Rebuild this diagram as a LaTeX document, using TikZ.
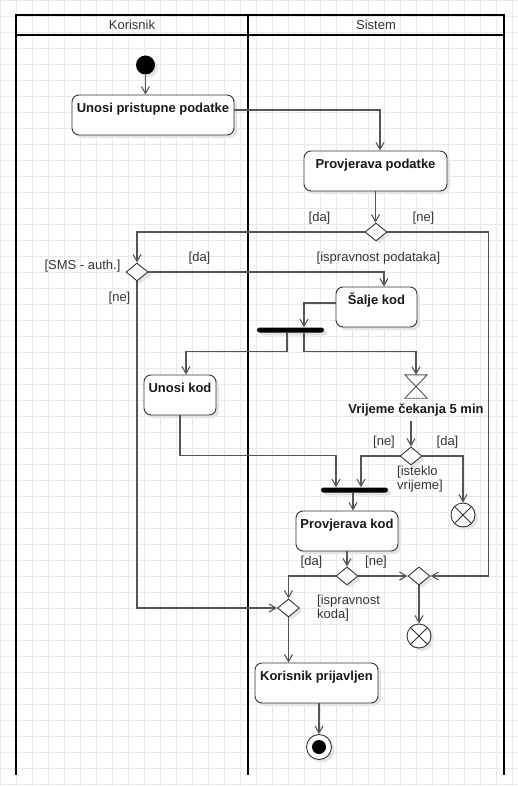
\documentclass[tikz,border=0pt]{standalone}
\usepackage{fontspec}
\setmainfont{Liberation Sans}
\usetikzlibrary{arrows.meta, shapes.geometric, positioning, calc, shadows}
\definecolor{gridgray}  {RGB}{234, 234, 234}
\definecolor{flowgray}  {RGB}{85,  85,  85}
\definecolor{edgegray}  {RGB}{51,  51,  51}
\definecolor{textgray}  {RGB}{51,  51,  51}
\definecolor{umbragray} {RGB}{228, 228, 228}
\tikzset{
	umbra/.style={drop shadow={shadow xshift=3pt, shadow yshift=-3pt, fill=umbragray, opacity=1}},
	gridline/.style={step=16pt, draw=gridgray, line width=0.8pt},
	pool/.style={draw=black, line width=2pt, line join=miter},
	lane/.style={text=textgray, inner sep=0, font=\fontsize{13pt}{15pt}\selectfont},
	flow/.style={draw=flowgray, line width=1.1pt, -{Straight Barb[length=7pt,width=8pt]}},
	act/.style={rectangle, draw=edgegray, line width=0.9pt, rounded corners=7pt, fill=white, umbra,
		minimum height=40pt, inner xsep=0, inner ysep=0, text height=17.5pt, text depth=22.5pt,
		font=\fontsize{13pt}{15pt}\selectfont\bfseries, text=black!90},
	actnote/.style={inner sep=0, font=\fontsize{13pt}{15pt}\selectfont\bfseries, text=black!90},
	dec/.style={diamond, draw=edgegray, line width=0.9pt, fill=white, umbra,
		minimum width=22pt, minimum height=18pt, inner sep=0},
	bar/.style={rectangle, fill=black, rounded corners=2.5pt, umbra,
		minimum width=67pt, minimum height=5pt, inner sep=0},
	startdot/.style={circle, fill=black, umbra, minimum size=19pt, inner sep=0},
	hglass/.style={rectangle, minimum width=22pt, minimum height=23pt, inner sep=0},
	flowend/.style={circle, draw=edgegray, line width=0.9pt, fill=white, umbra, minimum size=24pt, inner sep=0,
		path picture={\draw[edgegray, line width=0.9pt]
			(path picture bounding box.center) +(45:12pt) -- +(225:12pt)
			(path picture bounding box.center) +(135:12pt) -- +(-45:12pt);}},
	actend/.style={circle, draw=edgegray, line width=0.9pt, fill=white, umbra, minimum size=25pt, inner sep=0,
		path picture={\fill[black] (path picture bounding box.center) circle (7pt);}},
	lbl/.style={text=textgray, inner sep=0, font=\fontsize{13pt}{14pt}\selectfont}
}
\begin{document}
\begin{tikzpicture}[x=1pt, y=-1pt]
	\useasboundingbox (0,0) rectangle (518,786);
	\draw[gridline] (0,0) grid (518,786);

	\draw[pool] (16,775) -- (16,15) -- (504,15) -- (504,775);
	\draw[pool] (16,35) -- (504,35);
	\draw[pool] (248,15) -- (248,775);
	\node[lane] (hk) at (132,25) {Korisnik};
	\node[lane] (hs) at (376,25) {Sistem};

	\node[startdot] (st) at (145.5,65) {};
	\node[act, minimum width=162pt] (upp) at (153,115) {Unosi pristupne podatke};
	\node[act, minimum width=143pt] (pp) at (375.5,171) {Provjerava podatke};
	\node[dec] (d1) at (376,232) {};
	\node[dec] (d2) at (137,272) {};
	\node[act, minimum width=81pt] (sk) at (376.5,307) {Šalje kod};
	\node[bar] (f1) at (290.5,330) {};
	\node[act, minimum width=72pt] (uk) at (180,395) {Unosi kod};
	\node[hglass] (hg) at (416,386.5) {};
	\draw[flowgray, line width=0.9pt] (hg.north west) -- (hg.north east) -- (hg.south west) -- (hg.south east) -- cycle;
	\node[actnote] (vc) at (416,410) {Vrijeme čekanja 5 min};
	\coordinate (vcb) at (411,421);
	\node[dec] (d3) at (411,456) {};
	\node[bar] (f2) at (354.5,490) {};
	\node[flowend] (x1) at (463,515) {};
	\node[act, minimum width=102pt] (pk) at (347,531) {Provjerava kod};
	\node[dec] (d4) at (347,576) {};
	\node[dec] (m1) at (419,576) {};
	\node[flowend] (x2) at (419,636) {};
	\node[dec] (d5) at (288.5,608) {};
	\node[act, minimum width=123pt] (kp) at (316.5,683) {Korisnik prijavljen};
	\node[actend] (en) at (319,747) {};

	\draw[flow] (st.south) -- (st.south |- upp.north);
	\draw[flow] ([yshift=5pt]upp.east) -| ([xshift=4.5pt]pp.north);
	\draw[flow] (pp.south) -- (pp.south |- d1.north);
	\draw[flow] (d1.west) -| (d2.north);
	\draw[flow] (d1.east) -- ++(101,0) |- (m1.east);
	\draw[flow] (d2.east) -| ([xshift=7.5pt]sk.north);
	\draw[flow] (d2.south) |- (d5.west);
	\draw[flow] ([yshift=4pt]sk.west) -| ([xshift=13.5pt]f1.north);
	\draw[flow] ([xshift=-3.5pt]f1.south) -- ++(0,18.5) -| ([xshift=6pt]uk.north);
	\draw[flow] ([xshift=13.5pt]f1.south) -- ++(0,18.5) -| (hg.north);
	\draw[flow] (vcb) -- (d3.north);
	\draw[flow] (d3.west) -| ([xshift=6.5pt]f2.north);
	\draw[flow] (d3.east) -| (x1.north);
	\draw[flow] (uk.south) -- ++(0,40) -| ([xshift=-18.5pt]f2.north);
	\draw[flow] ([xshift=-1.5pt]f2.south) -- ([xshift=6pt]pk.north);
	\draw[flow] (pk.south) -- (d4.north);
	\draw[flow] (d4.west) -| (d5.north);
	\draw[flow] (d4.east) -- (m1.west);
	\draw[flow] (m1.south) -- (x2.north);
	\draw[flow] (d5.south) -- ([xshift=-28pt]kp.north);
	\draw[flow] ([xshift=2.5pt]kp.south) -- (en.north);

	\node[lbl] (l1) at (319.5,218.5) {[da]};
	\node[lbl] (l2) at (423.5,218.5) {[ne]};
	\node[lbl] (l3) at (378.5,258) {[ispravnost podataka]};
	\node[lbl] (l4) at (82.5,266) {[SMS - auth.]};
	\node[lbl] (l5) at (199.5,258.5) {[da]};
	\node[lbl] (l6) at (119.5,298) {[ne]};
	\node[lbl] (l7) at (384,442) {[ne]};
	\node[lbl] (l8) at (447.5,442) {[da]};
	\node[lbl, anchor=north west, align=left] (l9) at (397,466) {[isteklo\\vrijeme]};
	\node[lbl] (l10) at (311.5,562) {[da]};
	\node[lbl] (l11) at (376,562) {[ne]};
	\node[lbl, anchor=north west, align=left] (l12) at (317,595) {[ispravnost\\koda]};
\end{tikzpicture}
\end{document}
